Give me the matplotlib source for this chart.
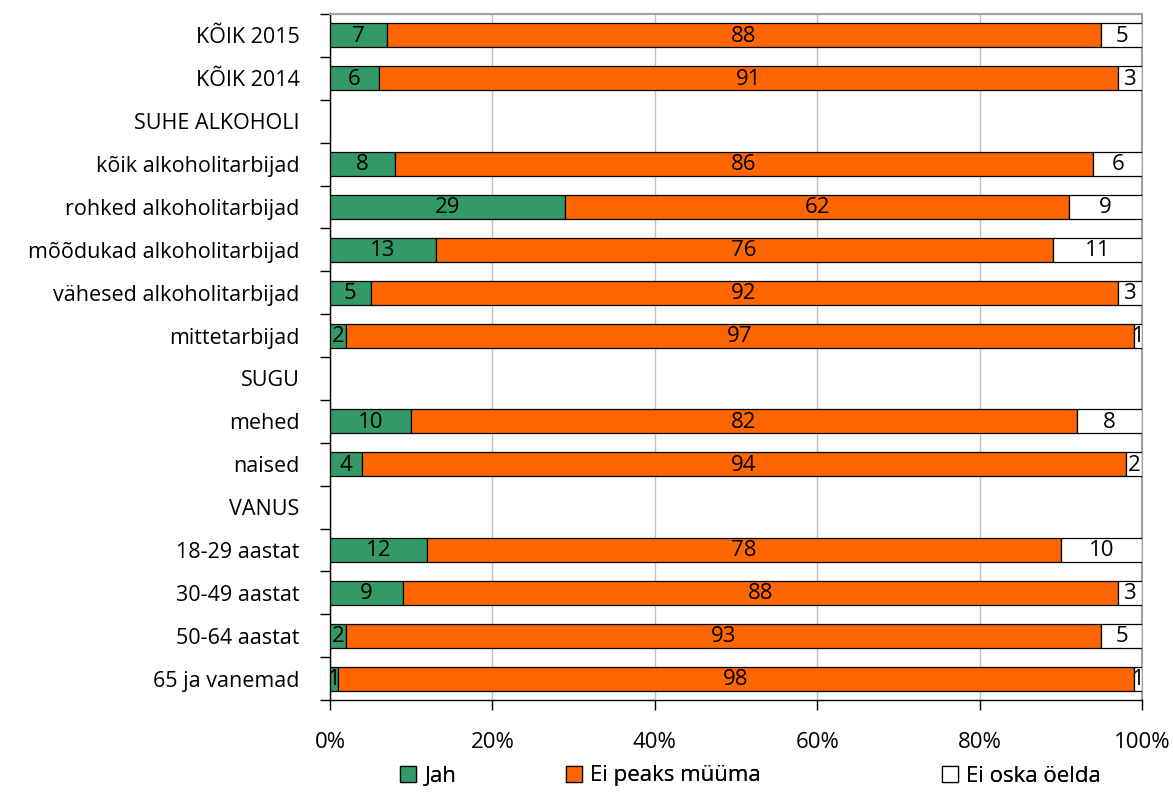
import matplotlib
matplotlib.use("Agg")
import matplotlib.pyplot as plt
import numpy as np

plt.rcParams['font.family'] = ['Open Sans', 'DejaVu Sans']

categories = ["KÕIK 2015", "KÕIK 2014", "SUHE ALKOHOLI", "kõik alkoholitarbijad",
              "rohked alkoholitarbijad", "mõõdukad alkoholitarbijad",
              "vähesed alkoholitarbijad", "mittetarbijad", "SUGU", "mehed", "naised",
              "VANUS", "18-29 aastat", "30-49 aastat", "50-64 aastat", "65 ja vanemad"]
jah = [7, 6, None, 8, 29, 13, 5, 2, None, 10, 4, None, 12, 9, 2, 1]
ei_peaks = [88, 91, None, 86, 62, 76, 92, 97, None, 82, 94, None, 78, 88, 93, 98]
ei_oska = [5, 3, None, 6, 9, 11, 3, 1, None, 8, 2, None, 10, 3, 5, 1]
series_names = ["Jah", "Ei peaks müüma", "Ei oska öelda"]
colors = ["#339966", "#FF6600", "#FFFFFF"]
xticks = [0, 20, 40, 60, 80, 100]
xtick_labels = ["0%", "20%", "40%", "60%", "80%", "100%"]

fig = plt.figure(figsize=(11.73, 7.92), dpi=100)
ax = fig.add_axes([330/1173, 1 - 700/792, (1142-330)/1173, (700-14)/792])

n = len(categories)
y = np.arange(n)
left = np.zeros(n)
series = [jah, ei_peaks, ei_oska]
handles = []
for vals, c, name in zip(series, colors, series_names):
    v = np.array([0 if x is None else x for x in vals], dtype=float)
    mask = np.array([x is not None for x in vals])
    bars = ax.barh(y[mask], v[mask], left=left[mask], height=0.56, color=c,
                   edgecolor="black", linewidth=0.9, label=name, zorder=3)
    handles.append(bars)
    for yi, li, vi in zip(y[mask], left[mask], v[mask]):
        ax.text(li + vi / 2, yi + 0.02, f"{int(vi)}", ha="center", va="center",
                fontsize=16, color="black", zorder=4)
    left = left + v

ax.set_xlim(0, 100)
ax.set_ylim(n - 0.5, -0.5)
ax.set_xticks(xticks)
ax.set_xticklabels(xtick_labels, fontsize=16)
ax.set_yticks(y)
ax.set_yticklabels(categories, fontsize=15.5)
ax.tick_params(axis="y", length=0, pad=22)
ax.set_yticks(np.arange(-0.5, n, 1), minor=True)
ax.tick_params(axis="y", which="minor", length=7, width=1, direction="out")
ax.tick_params(axis="x", length=7, width=1, direction="out", pad=16)
ax.xaxis.grid(True, color="#C0C0C0", linewidth=1, zorder=0)
ax.set_axisbelow(True)
for s in ["top", "right"]:
    ax.spines[s].set_color("#A0A0A0")
    ax.spines[s].set_linewidth(1.5)
for s in ["left", "bottom"]:
    ax.spines[s].set_color("black")
    ax.spines[s].set_linewidth(1)

legend_x = [400, 566, 942]
for h, name, lx in zip(handles, series_names, legend_x):
    leg = fig.legend(handles=[h], labels=[name], loc="center left",
                     bbox_to_anchor=(lx/1173, 1 - 776/792), frameon=False,
                     fontsize=16, handlelength=0.7, handleheight=0.7,
                     handletextpad=0.4, borderpad=0, borderaxespad=0)
    fig.add_artist(leg)

fig.savefig("out.png", dpi=100)
